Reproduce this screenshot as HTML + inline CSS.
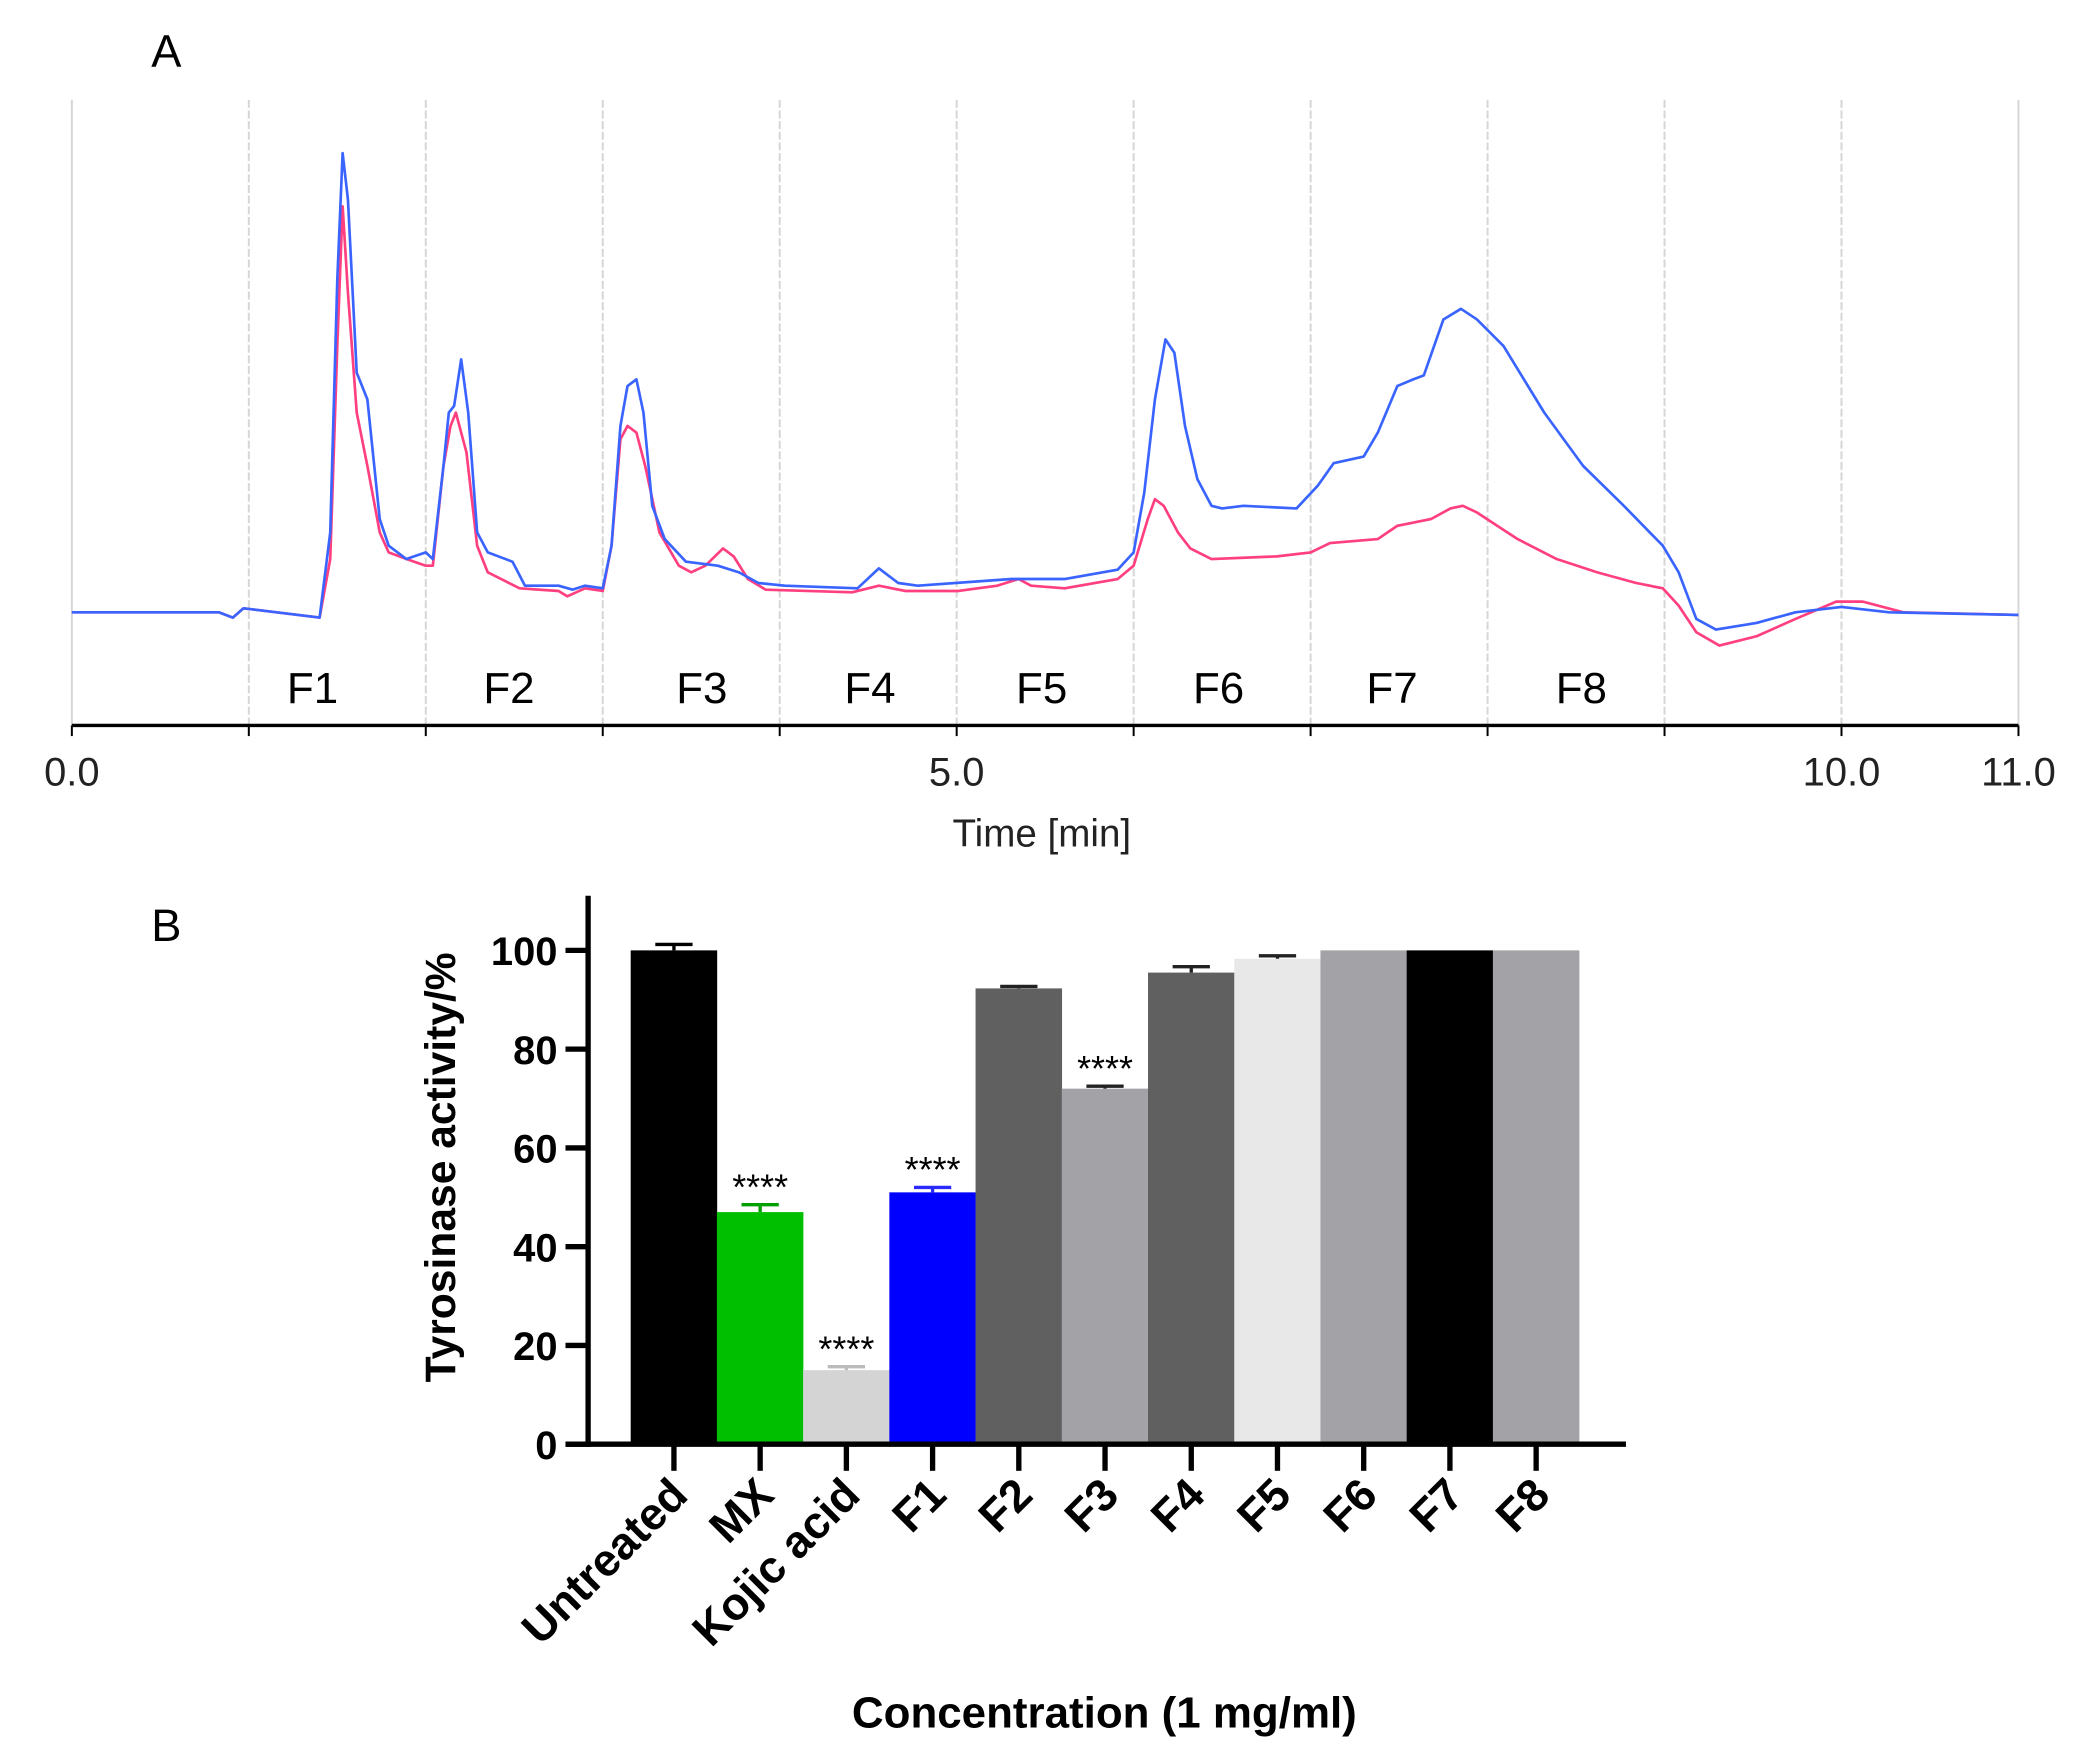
<!DOCTYPE html>
<html><head><meta charset="utf-8"><style>
html,body{margin:0;padding:0;background:#fff;}
svg{display:block;}
text{font-family:"Liberation Sans",sans-serif;}
</style></head><body>
<svg id="fig" width="2085" height="1757" viewBox="0 0 1567 1320" preserveAspectRatio="none" xmlns="http://www.w3.org/2000/svg">
<g id="pa"></g>
<g id="pb"></g>
</svg>
<script>
// ===== Panel A data =====
const blueT=[0,0.83,0.91,0.97,1.4,1.46,1.5,1.53,1.56,1.61,1.67,1.74,1.79,1.89,2.0,2.04,2.1,2.13,2.16,2.2,2.24,2.29,2.35,2.49,2.56,2.75,2.83,2.9,3.0,3.05,3.1,3.14,3.19,3.23,3.28,3.35,3.47,3.65,3.77,3.88,4.03,4.44,4.56,4.67,4.78,5.31,5.61,5.91,6.0,6.06,6.12,6.18,6.23,6.29,6.36,6.44,6.5,6.62,6.92,7.04,7.13,7.3,7.38,7.49,7.58,7.64,7.75,7.85,7.94,8.09,8.32,8.54,8.77,8.99,9.08,9.18,9.29,9.52,9.74,10.0,10.27,11.0];
const blueV=[0,0,-4,3,-4,60,250,345,310,180,160,70,50,40,45,40,110,150,155,190,150,60,45,38,20,20,17,20,18,50,140,170,175,150,80,55,38,35,30,22,20,18,33,22,20,25,25,32,45,90,160,205,195,140,100,80,78,80,78,95,112,117,135,170,175,178,220,228,220,200,150,110,80,50,30,-5,-13,-8,0,4,0,-2];
const redT=[0,0.83,0.91,0.97,1.4,1.46,1.5,1.53,1.56,1.61,1.67,1.74,1.79,1.89,2.0,2.04,2.1,2.14,2.17,2.23,2.29,2.35,2.53,2.75,2.8,2.9,3.0,3.05,3.1,3.14,3.19,3.24,3.32,3.43,3.5,3.58,3.68,3.74,3.82,3.92,4.41,4.56,4.71,5.01,5.23,5.35,5.42,5.61,5.91,6.0,6.08,6.12,6.17,6.25,6.32,6.44,6.81,7.0,7.11,7.38,7.49,7.68,7.79,7.86,7.94,8.17,8.39,8.62,8.84,8.99,9.08,9.18,9.31,9.52,9.74,9.97,10.12,10.35,11.0];
const redV=[0,0,-4,3,-4,40,200,305,240,150,110,60,45,40,35,35,110,140,150,120,50,30,18,16,12,18,16,50,130,140,135,110,60,35,30,35,48,42,25,17,15,20,16,16,20,25,20,18,25,35,70,85,80,60,48,40,42,45,52,55,65,70,78,80,75,55,40,30,22,18,5,-15,-25,-18,-5,8,8,0,-2];
const xTickVals=[0,5,10,11];
const xTickLabels=["0.0","5.0","10.0","11.0"];
const fracNames=["F1","F2","F3","F4","F5","F6","F7","F8"];
const fracPos=[1.36,2.47,3.56,4.51,5.48,6.48,7.46,8.53];

// ===== Panel B data =====
const groups=["Untreated","MX","Kojic acid","F1","F2","F3","F4","F5","F6","F7","F8"];
const activity=[100,47,15,51,92.3,72,95.5,98.3,100,100,100];
const errors=[1.2,1.5,0.7,1.0,0.4,0.5,1.2,0.6,0,0,0];
const signif=["","****","****","****","","****","","","","",""];
const yTicks=[0,20,40,60,80,100];
const colors=["#000000","#00bf00","#d4d4d4","#0000ff","#606060","#a3a2a7","#606060","#e8e8e8","#a3a2a7","#000000","#a3a2a7"];
const errColors=["#000","#00a000","#bbb","#2a2aff","#222","#222","#222","#222","#222","#222","#222"];

const NS="http://www.w3.org/2000/svg";
function mk(parent,tag,attrs,txt){const e=document.createElementNS(NS,tag);for(const k in attrs)e.setAttribute(k,attrs[k]);if(txt!==undefined)e.textContent=txt;parent.appendChild(e);return e;}

// ---- Panel A ----
const pa=document.getElementById('pa');
const ax=t=>54+t*(1517-54)/11;
const ay=v=>460-v;
let e=mk(pa,'text',{x:125,y:50,'font-size':34,'text-anchor':'middle'},'A');


for(let i=0;i<=11;i++){
  e=mk(pa,'line',{x1:ax(i),x2:ax(i),y1:75,y2:545,stroke:'#d6d6d6','stroke-width':1.5,'stroke-dasharray':(i==0||i==11)?'none':'6 2'});
  
  
  e=mk(pa,'line',{x1:ax(i),x2:ax(i),y1:545,y2:553,stroke:'#000','stroke-width':1.5});
  
  
}
e=mk(pa,'line',{x1:54,x2:1517,y1:545,y2:545,stroke:'#000','stroke-width':2.5});


xTickVals.forEach((v,i)=>{
  e=mk(pa,'text',{x:ax(v),y:590,'font-size':30,'text-anchor':'middle',fill:'#222'},xTickLabels[i]);
  
  
});
e=mk(pa,'text',{x:783,y:636,'font-size':29,'text-anchor':'middle',fill:'#222'},'Time [min]');


fracNames.forEach((n,i)=>{
  e=mk(pa,'text',{x:ax(fracPos[i]),y:528,'font-size':33,'text-anchor':'middle'},n);
  
  
});
function line(T,V,col,name){
  const d=T.map((t,i)=>(i?'L':'M')+ax(t).toFixed(1)+' '+ay(V[i]).toFixed(1)).join(' ');
  const p=mk(pa,'path',{d:d,fill:'none',stroke:col,'stroke-width':2,'stroke-linejoin':'round'});
  
  
}
line(redT,redV,'#ff3f7f','red-trace');
line(blueT,blueV,'#3a64ff','blue-trace');

// ---- Panel B ----
const pb=document.getElementById('pb');
const by=v=>1085-v*3.71;
const step=64.8, x0=474, bw=65;
const bx=i=>x0+i*step;
e=mk(pb,'text',{x:125,y:707,'font-size':34,'text-anchor':'middle'},'B');


groups.forEach((g,i)=>{
  const top=by(activity[i]);
  e=mk(pb,'rect',{x:bx(i),y:top,width:bw,height:1085-top,fill:colors[i]});
  
  
  const cx=bx(i)+bw/2;
  if(errors[i]>0){
    const et=by(activity[i]+errors[i]);
    e=mk(pb,'path',{d:`M${cx} ${top} L${cx} ${et} M${cx-14} ${et} L${cx+14} ${et}`,stroke:errColors[i],'stroke-width':2.5,fill:'none'});
    
    
  }
  if(signif[i]){
    e=mk(pb,'text',{x:cx,y:by(activity[i]+errors[i])-4,'font-size':27,'text-anchor':'middle'},signif[i]);
    
    
  }
  e=mk(pb,'line',{x1:cx,x2:cx,y1:1085,y2:1105,stroke:'#000','stroke-width':4});
  
  
  e=mk(pb,'text',{x:0,y:0,'font-size':34,'font-weight':'bold','text-anchor':'end',transform:`translate(${cx+12},${1125}) rotate(-45)`},g);
  
  
});
e=mk(pb,'line',{x1:442,x2:442,y1:673,y2:1087,stroke:'#000','stroke-width':4});


e=mk(pb,'line',{x1:425,x2:1222,y1:1085,y2:1085,stroke:'#000','stroke-width':4});


yTicks.forEach(v=>{
  e=mk(pb,'line',{x1:425,x2:442,y1:by(v),y2:by(v),stroke:'#000','stroke-width':4});
  
  
  e=mk(pb,'text',{x:419,y:by(v)+11,'font-size':30,'font-weight':'bold','text-anchor':'end'},String(v));
  
  
});
e=mk(pb,'text',{x:0,y:0,'font-size':32,'font-weight':'bold','text-anchor':'middle',transform:'translate(342,877) rotate(-90)'},'Tyrosinase activity/%');


e=mk(pb,'text',{x:830,y:1298,'font-size':33,'font-weight':'bold','text-anchor':'middle'},'Concentration (1 mg/ml)');


</script>
</body></html>
